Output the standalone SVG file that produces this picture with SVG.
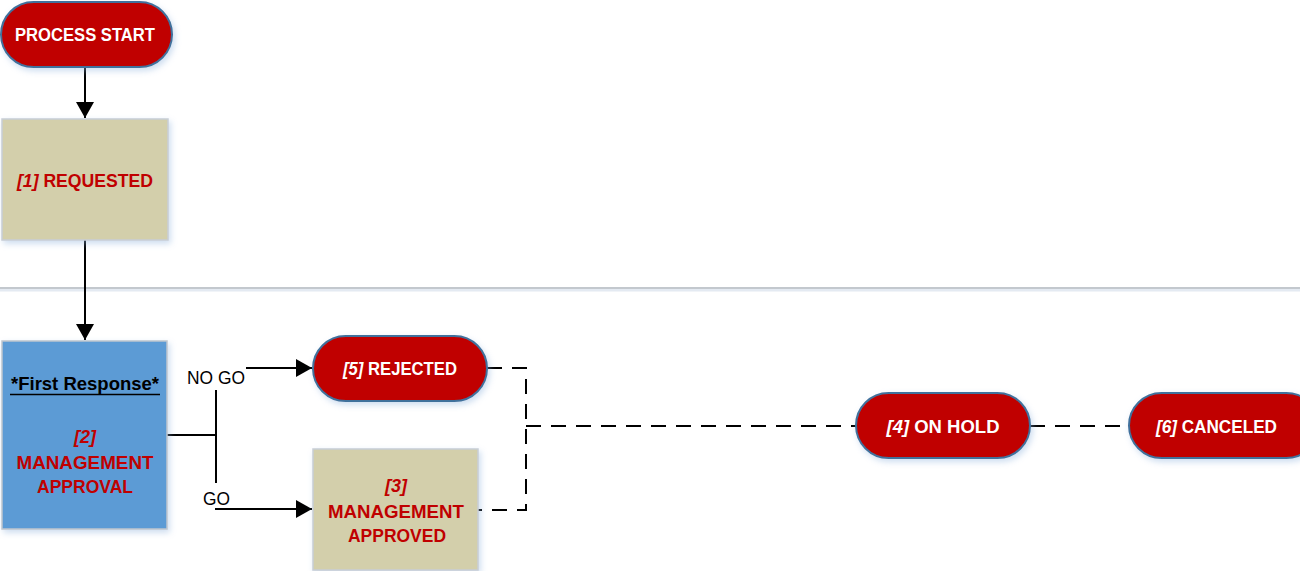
<svg xmlns="http://www.w3.org/2000/svg" width="1300" height="571" viewBox="0 0 1300 571">
<defs>
<filter id="sh" x="-20%" y="-20%" width="140%" height="150%">
<feDropShadow dx="2" dy="3" stdDeviation="3" flood-color="#8FB4DE" flood-opacity="0.45"/>
</filter>
<marker id="ah" markerUnits="userSpaceOnUse" markerWidth="18" markerHeight="18" refX="16" refY="9" orient="auto">
<path d="M0,0 L16,9 L0,18 z" fill="#000"/>
</marker>
</defs>
<style>
.pill{fill:#C00000;stroke:#41719C;stroke-width:2}
.tan{fill:#D3CFAB;stroke:#C8CED6;stroke-width:1.5}
.blue{fill:#5B9BD5;stroke:#BFC6CE;stroke-width:1.5}
text{font-family:"Liberation Sans",Arial,sans-serif;font-weight:bold;font-size:18px;text-anchor:middle}
.w{fill:#fff}
.r{fill:#C00000}
.k{fill:#000}
.lbl{font-weight:normal;fill:#000;font-size:18px}
.i{font-style:italic}
.ln{fill:none;stroke:#000;stroke-width:2}
.dash{fill:none;stroke:#000;stroke-width:2;stroke-dasharray:15 10}
</style>
<line x1="0" y1="290" x2="1300" y2="290" stroke="#E4EAF2" stroke-width="3"/>
<line x1="0" y1="288" x2="1300" y2="288" stroke="#C3C8CE" stroke-width="2"/>
<g id="connectors">
<line class="ln" x1="85" y1="67" x2="85" y2="118" marker-end="url(#ah)"/>
<line class="ln" x1="85" y1="240" x2="85" y2="340" marker-end="url(#ah)"/>
<polyline class="ln" points="167,435 216,435"/>
<line class="ln" x1="216" y1="390" x2="216" y2="483"/>
<line class="ln" x1="246" y1="368" x2="312" y2="368" marker-end="url(#ah)"/>
<line class="ln" x1="215" y1="509" x2="312" y2="509" marker-end="url(#ah)"/>
<polyline class="dash" points="487,368 526,368 526,510 478,510"/>
<line class="dash" x1="526" y1="426" x2="856" y2="426"/>
<line class="dash" x1="1030" y1="426" x2="1129" y2="426"/>
<text class="lbl" x="216" y="384" textLength="58" lengthAdjust="spacingAndGlyphs">NO GO</text>
<text class="lbl" x="216.5" y="505" textLength="27" lengthAdjust="spacingAndGlyphs">GO</text>
</g>
<g id="process-start">
<rect class="pill" x="1" y="2" width="171" height="65" rx="32.5" filter="url(#sh)"/>
<text class="w" x="85" y="41" textLength="140" lengthAdjust="spacingAndGlyphs">PROCESS START</text>
</g>
<g id="requested">
<rect class="tan" x="2" y="119" width="166" height="121" filter="url(#sh)"/>
<text class="r" x="85" y="187" textLength="136" lengthAdjust="spacingAndGlyphs"><tspan class="i">[1]</tspan> REQUESTED</text>
</g>
<g id="management-approval">
<rect class="blue" x="2" y="341" width="165" height="188" filter="url(#sh)"/>
<text class="k" x="85" y="390" textLength="148" lengthAdjust="spacingAndGlyphs">*First Response*</text>
<line x1="10" y1="394.5" x2="160" y2="394.5" stroke="#000" stroke-width="1.5"/>
<text class="r i" x="85" y="443">[2]</text>
<text class="r" x="85" y="469" textLength="137" lengthAdjust="spacingAndGlyphs">MANAGEMENT</text>
<text class="r" x="85" y="493" textLength="96" lengthAdjust="spacingAndGlyphs">APPROVAL</text>
</g>
<g id="rejected">
<rect class="pill" x="313" y="336" width="174" height="65" rx="32.5" filter="url(#sh)"/>
<text class="w" x="400" y="375" textLength="114" lengthAdjust="spacingAndGlyphs"><tspan class="i">[5]</tspan> REJECTED</text>
</g>
<g id="management-approved">
<rect class="tan" x="313" y="449" width="165" height="121" filter="url(#sh)"/>
<text class="r i" x="396" y="492">[3]</text>
<text class="r" x="396" y="518" textLength="136" lengthAdjust="spacingAndGlyphs">MANAGEMENT</text>
<text class="r" x="397" y="542" textLength="98" lengthAdjust="spacingAndGlyphs">APPROVED</text>
</g>
<g id="on-hold">
<rect class="pill" x="856" y="393" width="174" height="65" rx="32.5" filter="url(#sh)"/>
<text class="w" x="943" y="433" textLength="113" lengthAdjust="spacingAndGlyphs"><tspan class="i">[4]</tspan> ON HOLD</text>
</g>
<g id="canceled">
<rect class="pill" x="1129" y="393" width="190" height="65" rx="32.5" filter="url(#sh)"/>
<text class="w" x="1216.5" y="433" textLength="121" lengthAdjust="spacingAndGlyphs"><tspan class="i">[6]</tspan> CANCELED</text>
</g>
</svg>
